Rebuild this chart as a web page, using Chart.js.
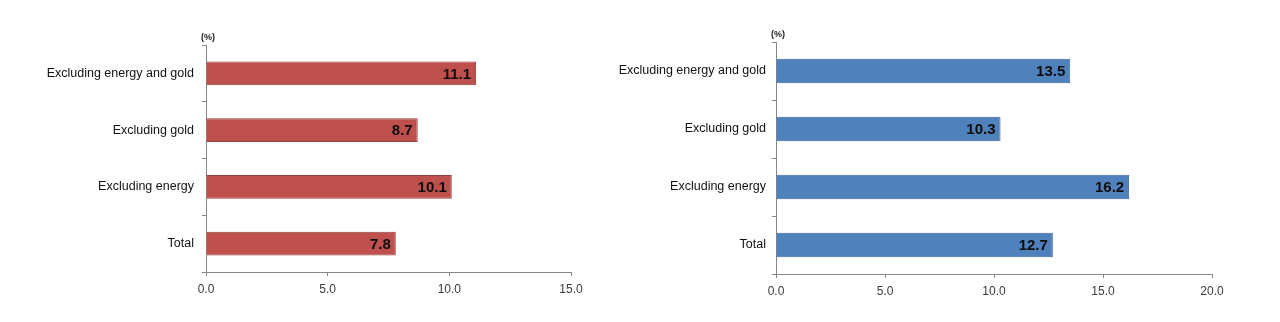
<!DOCTYPE html>
<html>
<head>
<meta charset="utf-8">
<script src="https://cdn.jsdelivr.net/npm/chart.js@4/dist/chart.umd.min.js"></script>
<style>
  html, body { margin: 0; padding: 0; background: #ffffff; }
  body { width: 1280px; height: 322px; position: relative; overflow: hidden; }
  canvas { position: absolute; top: 0; }
  #leftChart { left: 0; }
  #rightChart { left: 580px; }
</style>
</head>
<body>
<canvas id="leftChart" width="640" height="322"></canvas>
<canvas id="rightChart" width="700" height="322"></canvas>
<script>
// Categories shared by both panels (top to bottom)
const categories = ['Excluding energy and gold', 'Excluding gold', 'Excluding energy', 'Total'];

// Annual change, % — left panel
const leftValues = [11.1, 8.7, 10.1, 7.8];
// Annual change, % — right panel
const rightValues = [13.5, 10.3, 16.2, 12.7];

// Value axis ranges and tick step
const leftAxisMax = 15;
const rightAxisMax = 20;
const axisStep = 5;
const unitLabel = '(%)';

const FONT = '"Liberation Sans", Arial, sans-serif';
const AXIS_COLOR = '#868686';

// Writes each bar's value inside its end
const valueLabels = {
  id: 'valueLabels',
  afterDatasetsDraw(chart) {
    const ctx = chart.ctx;
    const meta = chart.getDatasetMeta(0);
    const data = chart.data.datasets[0].data;
    ctx.save();
    ctx.font = 'bold 15px ' + FONT;
    ctx.fillStyle = '#0d0d0d';
    ctx.textAlign = 'right';
    ctx.textBaseline = 'middle';
    meta.data.forEach((bar, i) => {
      ctx.fillText(data[i].toFixed(1), bar.x - 5, bar.y + 1);
    });
    ctx.restore();
  }
};

// Unit caption above the category axis
const unitCaption = {
  id: 'unitCaption',
  afterDraw(chart) {
    const ctx = chart.ctx;
    const area = chart.chartArea;
    ctx.save();
    ctx.font = 'bold 9px ' + FONT;
    ctx.fillStyle = '#222222';
    ctx.textAlign = 'center';
    ctx.textBaseline = 'middle';
    ctx.fillText(unitLabel, area.left + 2, area.top - 7);
    ctx.restore();
  }
};

function makeChart(id, values, axisMax, fill, edge, geo) {
  return new Chart(document.getElementById(id), {
    type: 'bar',
    data: {
      labels: categories,
      datasets: [{
        data: values,
        backgroundColor: fill,
        borderColor: edge,
        borderWidth: 1,
        borderSkipped: 'left',
        categoryPercentage: 1,
        barPercentage: 0.42
      }]
    },
    options: {
      indexAxis: 'y',
      responsive: false,
      devicePixelRatio: 1,
      animation: false,
      layout: { padding: { top: geo.top, right: geo.right, bottom: 0, left: 0 } },
      plugins: { legend: { display: false }, tooltip: { enabled: false } },
      scales: {
        x: {
          min: 0,
          max: axisMax,
          afterFit(scale) { scale.height = geo.bottomHeight; },
          ticks: {
            stepSize: axisStep,
            color: '#3a3a3a',
            font: { family: FONT, size: 12 },
            padding: 6,
            callback: v => Number(v).toFixed(1)
          },
          grid: { drawOnChartArea: false, drawTicks: true, tickLength: 4, color: AXIS_COLOR },
          border: { display: true, color: AXIS_COLOR, width: 1 }
        },
        y: {
          offset: true,
          afterFit(scale) { scale.width = geo.left; },
          ticks: {
            color: '#111111',
            font: { family: FONT, size: 12.5 },
            padding: geo.labelGap
          },
          grid: { offset: true, drawOnChartArea: false, drawTicks: true, tickLength: 4, color: AXIS_COLOR },
          border: { display: true, color: AXIS_COLOR, width: 1 }
        }
      }
    },
    plugins: [valueLabels, unitCaption]
  });
}

makeChart('leftChart', leftValues, leftAxisMax, '#C0504D', '#93403D',
  { left: 206, right: 69, top: 45, bottomHeight: 50, labelGap: 8 });
makeChart('rightChart', rightValues, rightAxisMax, '#4F81BD', '#3C679C',
  { left: 196, right: 68, top: 42, bottomHeight: 48, labelGap: 6 });
</script>
</body>
</html>
